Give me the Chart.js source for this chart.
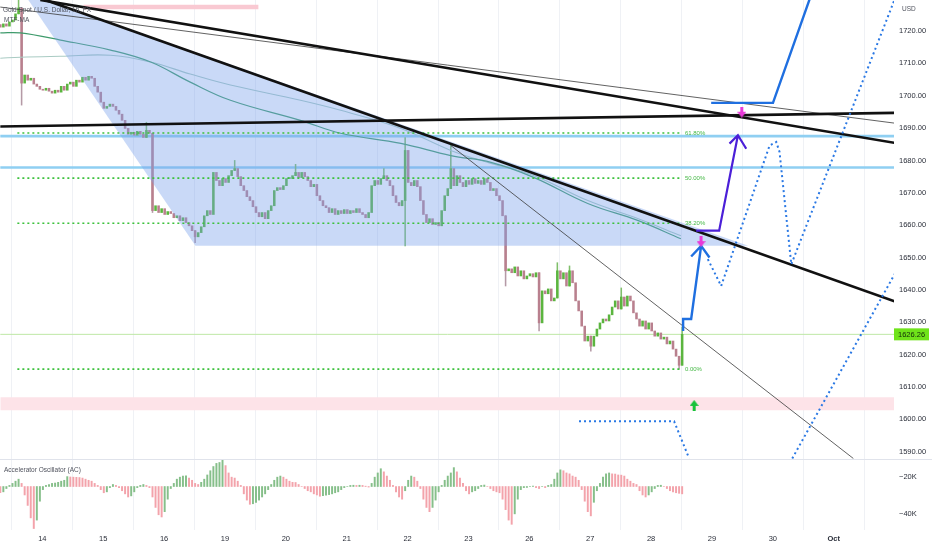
<!DOCTYPE html>
<html>
<head>
<meta charset="utf-8">
<title>Gold Spot / U.S. Dollar, 1h</title>
<script src="https://cdn.jsdelivr.net/npm/chart.js@4.4.1/dist/chart.umd.min.js"></script>
<style>
  html, body { margin: 0; padding: 0; background: #fff; }
  #wrap { width: 932px; height: 550px; }
</style>
</head>
<body>
<div id="wrap"><canvas id="chart" width="932" height="550"></canvas></div>
<script>
// x runs in trading days, tick 0 = Sep 14
const dayLabels = ['14', '15', '16', '19', '20', '21', '22', '23', '26', '27', '28', '29', '30', 'Oct'];
const priceTicks = [1590, 1600, 1610, 1620, 1630, 1640, 1650, 1660, 1670, 1680, 1690, 1700, 1710, 1720];
const oscTicks = [-20, -40];

// hourly-ish candles, one every 1/20 day
const candleStart = -0.69;
const candleStep = 0.05;
const firstOpen = 1722.0;
const closes = [
  1721.2, 1722.2, 1721.5, 1722.8, 1723.4, 1725.3, 1727.1, 1703.9, 1706.4, 1704.8,
  1705.4, 1703.6, 1702.9, 1702.0, 1701.7, 1702.3, 1701.4, 1700.8, 1701.7, 1701.1,
  1702.9, 1701.7, 1703.6, 1704.2, 1702.9, 1704.8, 1704.2, 1705.7, 1704.8, 1706.0,
  1705.4, 1702.9, 1701.1, 1698.0, 1696.1, 1696.7, 1697.4, 1696.7, 1695.5, 1694.3,
  1692.4, 1689.9, 1688.1, 1688.7, 1687.8, 1689.0, 1688.1, 1687.1, 1689.3, 1688.4,
  1664.5, 1666.0, 1663.9, 1665.1, 1663.3, 1664.2, 1663.6, 1662.3, 1662.9, 1661.4,
  1662.3, 1660.8, 1659.8, 1658.3, 1656.4, 1657.7, 1659.5, 1662.9, 1664.5, 1663.3,
  1676.3, 1673.8, 1672.2, 1674.4, 1673.2, 1675.3, 1676.9, 1677.5, 1675.0, 1672.2,
  1670.7, 1668.8, 1667.6, 1665.7, 1663.9, 1662.6, 1663.9, 1662.0, 1664.5, 1666.0,
  1670.7, 1671.6, 1671.0, 1672.2, 1674.4, 1674.4, 1675.3, 1676.3, 1674.7, 1676.3,
  1675.0, 1673.8, 1671.9, 1672.6, 1669.1, 1667.6, 1666.0, 1665.4, 1663.9, 1665.1,
  1663.3, 1664.5, 1663.6, 1664.8, 1663.6, 1664.5, 1663.9, 1665.1, 1663.9, 1663.3,
  1662.3, 1663.9, 1672.2, 1673.8, 1672.6, 1674.4, 1675.3, 1673.8, 1672.2, 1669.1,
  1667.0, 1666.0, 1667.6, 1683.1, 1673.2, 1672.2, 1673.8, 1671.9, 1667.6, 1663.3,
  1660.8, 1662.0, 1660.2, 1660.8, 1659.8, 1664.5, 1669.1, 1671.3, 1677.5, 1672.2,
  1675.3, 1673.2, 1671.9, 1673.8, 1672.6, 1674.4, 1672.9, 1673.8, 1672.6, 1674.4,
  1673.2, 1670.7, 1671.3, 1669.1, 1667.6, 1662.9, 1645.9, 1646.5, 1645.3, 1647.1,
  1644.3, 1645.9, 1643.4, 1644.3, 1645.0, 1644.0, 1645.3, 1629.8, 1639.7, 1638.8,
  1640.3, 1636.6, 1637.5, 1645.9, 1643.4, 1645.3, 1641.2, 1645.9, 1642.2, 1636.6,
  1633.5, 1628.8, 1624.2, 1625.7, 1622.6, 1625.7, 1627.9, 1629.8, 1631.0, 1630.4,
  1632.3, 1634.7, 1636.6, 1634.1, 1637.8, 1635.0, 1638.1, 1636.6, 1632.9, 1631.0,
  1628.8, 1630.4, 1627.9, 1629.8, 1627.3, 1625.7, 1626.7, 1624.8, 1625.4, 1623.3,
  1624.2, 1621.7, 1619.5, 1616.7, 1626.26
];
// wicks that stick out of the body (candle index -> price)
const wickHighs = { 6: 1729.6, 48: 1691.8, 77: 1680.0, 97: 1678.8, 126: 1677.5, 133: 1687.1,
  148: 1684.7, 183: 1648.4, 187: 1647.4, 204: 1640.6, 224: 1628.5 };
const wickLows = { 7: 1697.1, 50: 1663.9, 64: 1654.6, 133: 1653.6, 166: 1641.2, 177: 1627.3,
  194: 1621.1, 223: 1615.5 };

// MTF-MA
const maDays = [-0.69, -0.36, 0.30, 1.12, 1.78, 2.43, 3.09, 4.24, 4.90, 5.89, 6.71, 7.37, 8.08, 8.96, 9.79, 10.49];
const maFast = [1719.4, 1719.4, 1717.2, 1714.1, 1710.4, 1704.2, 1698.6, 1692.4, 1688.4, 1685.3, 1681.5, 1679.4, 1674.7, 1666.7, 1661.4, 1655.8];
const maSlow = [1711.6, 1711.9, 1712.2, 1712.5, 1710.4, 1706.7, 1703.3, 1698.6, 1695.5, 1689.9, 1683.1, 1679.1, 1675.3, 1667.6, 1662.0, 1656.7];

// Accelerator Oscillator, K, same bars as the candles
const acBase = -25;
const acValues = [
  -3.4, -2.9, -1.1, 0.6, 1.7, 2.9, 4.0, 1.7, -4.6, -10.3,
  -17.1, -22.9, -18.3, -8.0, -1.7, 0.6, 1.1, 1.7, 1.9, 2.3,
  2.9, 3.4, 5.4, 5.2, 5.1, 5.0, 4.9, 4.6, 4.0, 3.4,
  2.9, 1.7, 0.6, -1.7, -3.4, -2.9, -0.6, 1.1, 0.6, -0.6,
  -2.3, -4.0, -5.7, -5.1, -2.9, -0.6, 0.6, 1.1, 0.6, -0.6,
  -5.7, -11.4, -15.4, -16.6, -13.7, -6.9, -1.1, 1.7, 4.0, 5.1,
  5.7, 5.8, 4.6, 3.4, 1.7, 1.1, 2.3, 4.0, 6.3, 8.6,
  10.9, 12.6, 13.1, 14.3, 11.4, 7.4, 5.1, 4.6, 2.9, 0.6,
  -4.0, -7.4, -9.7, -9.4, -8.6, -7.4, -5.7, -4.0, -1.7, 1.1,
  3.4, 5.1, 5.7, 5.1, 4.0, 2.9, 2.3, 2.2, 1.1, 0,
  -1.1, -2.3, -2.9, -4.0, -4.6, -5.3, -5.0, -4.7, -4.4, -4.0,
  -3.4, -2.9, -1.7, -0.6, 0, 0.6, 0.7, 0.6, 0.7, 0.6,
  0.2, -0.3, 1.7, 5.1, 7.4, 9.7, 8.0, 5.7, 3.4, 0.6,
  -2.9, -5.7, -6.9, -2.3, 3.4, 5.7, 5.1, 2.9, -1.1, -6.9,
  -11.4, -13.7, -11.4, -7.4, -2.9, 0.6, 3.4, 5.7, 7.4, 10.3,
  8.0, 4.6, 1.7, -2.3, -4.0, -2.9, -2.3, -1.1, 0.6, 0.8,
  0, -1.1, -2.3, -2.9, -3.4, -6.9, -12.6, -18.3, -20.6, -14.9,
  -6.9, -1.7, -0.6, -0.5, 0, 0.2, -0.6, -1.1, 0, -0.6,
  0.6, 1.1, 4.0, 7.4, 9.1, 8.6, 7.4, 6.9, 5.7, 5.1,
  3.4, -1.7, -8.0, -13.7, -16.0, -8.6, -2.3, 1.7, 5.1, 6.9,
  7.4, 6.9, 6.8, 6.3, 6.2, 5.7, 4.0, 2.9, 1.7, 1.1,
  -2.3, -4.6, -5.7, -4.6, -2.9, -1.1, 0.6, 0.7, 0, -1.1,
  -2.3, -2.9, -3.4, -3.7, -4.0
];

// Fibonacci retracement
const fibLow = 1615.5;
const fibHigh = 1733.6;
const fibLevels = [0, 0.382, 0.5, 0.618];
const fibFrom = -0.41;
const fibTo = 10.49;

// drawings, [day, price]
const trendLower = [[0.049, 1729.6], [14.01, 1636.4]];
const trendUpper = [[-0.033, 1729.6], [14.01, 1685.4]];
const trendThin = [[-0.69, 1727.4], [14.01, 1691.5]];
const trendSteep = [[6.711, 1684.6], [13.322, 1587.9]];
const levelLine = [[-0.69, 1690.5], [14.01, 1694.7]];
const blueLevels = [1687.5, 1677.8];
const triangle = [[-0.321, 1732.1], [2.516, 1653.6], [11.595, 1653.6], [-0.321, 1732.1]];
const pinkTopDays = [0.674, 3.553];
const pinkTop = [1726.7, 1728.1];
const pinkLowDays = [-0.69, 14.01];
const pinkLow = [1602.8, 1606.8];
const pathUp1 = [[10.526, 1627.3], [10.526, 1631.0], [10.658, 1631.0], [10.822, 1653.6]];
const headUp1 = [[10.658, 1650.3], [10.822, 1653.6], [10.959, 1650.0]];
const pathUp2 = [[10.740, 1658.3], [11.118, 1658.3], [11.426, 1687.8]];
const headUp2 = [[11.288, 1685.2], [11.426, 1687.8], [11.563, 1683.6]];
const pathUp3 = [[10.987, 1697.8], [12.002, 1697.8], [12.658, 1732.7]];
const dotted1 = [[10.932, 1649.5], [11.151, 1641.2], [11.946, 1684.6], [12.056, 1685.7], [12.110, 1682.6], [12.303, 1647.9], [13.997, 1729.6]];
const dotted2 = [[8.816, 1599.4], [10.378, 1599.4], [10.625, 1587.9]];
const dotted3 = [[12.319, 1587.9], [14.013, 1645.3]];
const targets = [[10.82, 1654.9], [11.49, 1694.9]];
const buySignal = [[10.707, 1604.3]];

const FONT = "'Liberation Sans', Arial, sans-serif";
const UP = '#5bb53f', DOWN = '#b9808e';
const X_MIN = -0.695, X_MAX = 13.99;

const pts = arr => arr.map(([x, y]) => ({ x, y }));
const withHead = (shaft, head) => [...pts(shaft), { x: head[0][0], y: null }, ...pts(head)];

const candles = closes.map((c, i) => {
  const o = i === 0 ? firstOpen : closes[i - 1];
  return {
    x: candleStart + i * candleStep, o, c,
    hi: wickHighs[i] !== undefined ? wickHighs[i] : Math.max(o, c),
    lo: wickLows[i] !== undefined ? wickLows[i] : Math.min(o, c),
    wick: wickHighs[i] !== undefined || wickLows[i] !== undefined
  };
});

function arrowStyle(color, down) {
  const cv = document.createElement('canvas');
  cv.width = 9; cv.height = 11;
  const g = cv.getContext('2d');
  g.fillStyle = color;
  g.beginPath();
  if (down) {
    g.fillRect(3, 0, 3, 5);
    g.moveTo(0, 5); g.lineTo(9, 5); g.lineTo(4.5, 11);
  } else {
    g.fillRect(3, 6, 3, 5);
    g.moveTo(0, 6); g.lineTo(9, 6); g.lineTo(4.5, 0);
  }
  g.closePath(); g.fill();
  return cv;
}

const lineDs = (data, color, width, order, extra) => Object.assign({
  type: 'line', data, borderColor: color, borderWidth: width, pointRadius: 0,
  fill: false, order, yAxisID: 'y'
}, extra || {});

const flat = (days, price) => [{ x: days[0], y: price }, { x: days[1], y: price }];

// no label overflow padding: plot must run to the canvas edges
const noPad = s => { s.paddingLeft = 0; s.paddingRight = 0; s.paddingTop = 0; s.paddingBottom = 0; };

const datasets = [
  // zones
  lineDs(flat(pinkLowDays, pinkLow[0]), 'rgba(0,0,0,0)', 0, 100),
  lineDs(flat(pinkLowDays, pinkLow[1]), 'rgba(0,0,0,0)', 0, 100, { fill: '-1', backgroundColor: '#fde3e8' }),
  lineDs(flat(pinkTopDays, pinkTop[0]), 'rgba(0,0,0,0)', 0, 100),
  lineDs(flat(pinkTopDays, pinkTop[1]), 'rgba(0,0,0,0)', 0, 100, { fill: '-1', backgroundColor: '#f9c9d2' }),
  // light blue levels
  ...blueLevels.map(p => lineDs(flat(pinkLowDays, p), '#8fcff2', 2.6, 90)),
  // current price line
  lineDs(flat(pinkLowDays, closes[closes.length - 1]), '#bfe8a6', 1, 85),
  // oscillator
  {
    type: 'bar', yAxisID: 'yOsc', order: 80, grouped: false, barThickness: 1.3,
    data: acValues.map((v, i) => ({ x: candleStart + i * candleStep, y: [acBase, acBase + v] })),
    backgroundColor: acValues.map((v, i) => (i > 0 && v > acValues[i - 1]) ? '#86bf8a' : '#f3a3ab')
  },
  // candles
  {
    type: 'bar', yAxisID: 'y', order: 70, grouped: false, barThickness: 0.9,
    data: candles.filter(k => k.wick).map(k => ({ x: k.x, y: [k.lo, k.hi] })),
    backgroundColor: candles.filter(k => k.wick).map(k => k.c >= k.o ? '#7fbf6a' : '#b59aa6')
  },
  {
    type: 'bar', yAxisID: 'y', order: 69, grouped: false, barThickness: 1.9, minBarLength: 1,
    data: candles.map(k => ({ x: k.x, y: [k.o, k.c] })),
    backgroundColor: candles.map(k => k.c >= k.o ? UP : DOWN)
  },
  // moving averages
  lineDs(maDays.map((d, i) => ({ x: d, y: maSlow[i] })), '#a9cbc3', 1.1, 60, { tension: 0.4 }),
  lineDs(maDays.map((d, i) => ({ x: d, y: maFast[i] })), '#3f9b6c', 1.2, 59, { tension: 0.4 }),
  // triangle
  lineDs(pts(triangle), 'rgba(0,0,0,0)', 0, 50, { fill: 'shape', backgroundColor: 'rgba(120,160,235,0.40)' }),
  // fib levels
  ...fibLevels.map(l => lineDs(flat([fibFrom, fibTo], fibLow + l * (fibHigh - fibLow)), '#3cc13c', 1.6, 40, { borderDash: [2, 3] })),
  // trend lines
  lineDs(pts(trendThin), '#3a3a3a', 0.8, 30),
  lineDs(pts(trendSteep), '#3a3a3a', 0.8, 30),
  lineDs(pts(levelLine), '#111111', 2.6, 29),
  lineDs(pts(trendUpper), '#111111', 2.6, 29),
  lineDs(pts(trendLower), '#111111', 2.6, 29),
  // projections
  lineDs(pts(dotted1), '#2a78e4', 2, 20, { borderDash: [2, 3] }),
  lineDs(pts(dotted2), '#2a78e4', 2, 20, { borderDash: [2, 3] }),
  lineDs(pts(dotted3), '#2a78e4', 2, 20, { borderDash: [2, 3] }),
  lineDs(withHead(pathUp1, headUp1), '#1f6fe0', 2.4, 15),
  lineDs(pts(pathUp3), '#1f6fe0', 2.4, 15),
  lineDs(withHead(pathUp2, headUp2), '#4b1fd8', 2.2, 14),
  {
    type: 'scatter', yAxisID: 'y', order: 5, data: pts(targets),
    pointStyle: arrowStyle('#e83ad8', true), pointRadius: 5
  },
  {
    type: 'scatter', yAxisID: 'y', order: 5, data: pts(buySignal),
    pointStyle: arrowStyle('#19c23a', false), pointRadius: 5
  }
];

const overlay = {
  id: 'overlay',
  afterDraw(chart) {
    const { ctx, scales: { x, y, yOsc } } = chart;
    ctx.save();
    const sep = Math.round(y.bottom) + 0.5;
    ctx.strokeStyle = '#e0e3eb';
    ctx.lineWidth = 1;
    ctx.beginPath(); ctx.moveTo(0, sep); ctx.lineTo(chart.width, sep); ctx.stroke();

    ctx.textBaseline = 'middle';
    ctx.textAlign = 'left';
    ctx.fillStyle = '#50535e';
    ctx.font = '6.5px ' + FONT;
    ctx.fillText('Gold Spot / U.S. Dollar, 1h, FX', 3, 10);
    ctx.fillText('MTF-MA', 4, 20.5);
    ctx.fillText('USD', y.left + 8, 9.5);
    ctx.fillText('Accelerator Oscillator (AC)', 4, yOsc.top + 11);

    ctx.fillStyle = '#45b845';
    ctx.font = '6px ' + FONT;
    fibLevels.forEach(l => {
      const p = fibLow + l * (fibHigh - fibLow);
      ctx.fillText((l * 100).toFixed(2) + '%', x.getPixelForValue(fibTo) + 4, y.getPixelForValue(p));
    });

    const last = closes[closes.length - 1];
    const py = y.getPixelForValue(last);
    ctx.fillStyle = '#6fe31a';
    ctx.fillRect(y.left, py - 6, 35, 12);
    ctx.fillStyle = '#122e08';
    ctx.font = '7.5px ' + FONT;
    ctx.fillText(last.toFixed(2), y.left + 4, py + 0.5);
    ctx.restore();
  }
};

new Chart(document.getElementById('chart'), {
  type: 'line',
  data: { datasets },
  plugins: [overlay],
  options: {
    responsive: false,
    animation: false,
    events: [],
    layout: { padding: 0, autoPadding: false },
    plugins: { legend: { display: false }, tooltip: { enabled: false } },
    scales: {
      x: {
        type: 'linear', min: X_MIN, max: X_MAX, offset: false,
        afterBuildTicks: s => { s.ticks = dayLabels.map((_, i) => ({ value: i })); },
        afterFit: s => { s.height = 20; noPad(s); },
        ticks: {
          callback: v => dayLabels[v], autoSkip: false, maxRotation: 0, padding: 4, color: '#2a2e39',
          font: c => ({ family: FONT, size: 7.5, weight: dayLabels[c.tick && c.tick.value] === 'Oct' ? 'bold' : 'normal' })
        },
        grid: { color: '#eff1f5', drawTicks: false },
        border: { display: false }
      },
      y: {
        type: 'linear', position: 'right', stack: 'pane', stackWeight: 459,
        min: 1587.74, max: 1729.58,
        afterBuildTicks: s => { s.ticks = priceTicks.map(v => ({ value: v })); },
        afterFit: s => { s.width = 38; noPad(s); },
        ticks: { callback: v => v.toFixed(2), padding: 5, color: '#2a2e39', font: { family: FONT, size: 7.5 } },
        grid: { display: false, drawTicks: false },
        border: { display: false }
      },
      yOsc: {
        type: 'linear', position: 'right', stack: 'pane', stackWeight: 71,
        min: -48.7, max: -10,
        afterBuildTicks: s => { s.ticks = oscTicks.map(v => ({ value: v })); },
        afterFit: s => { s.width = 38; noPad(s); },
        ticks: { callback: v => '\u2212' + Math.abs(v) + 'K', padding: 5, color: '#2a2e39', font: { family: FONT, size: 7.5 } },
        grid: { display: false, drawTicks: false },
        border: { display: false }
      }
    }
  }
});
</script>
</body>
</html>
